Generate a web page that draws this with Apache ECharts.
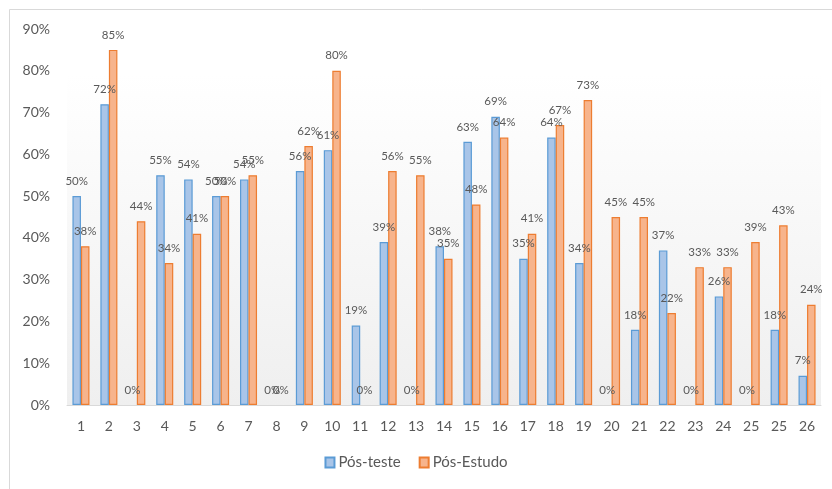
<!DOCTYPE html>
<html>
<head>
<meta charset="utf-8">
<script src="https://cdn.jsdelivr.net/npm/echarts@6/dist/echarts.min.js"></script>
<style>
  html, body { margin: 0; padding: 0; background: #fff; }
  #chart { width: 832px; height: 489px; }
</style>
</head>
<body>
<div id="chart"></div>
<script>
// question numbers as printed under the bars (25 appears twice)
var categories = ['1','2','3','4','5','6','7','8','9','10','11','12','13','14','15','16','17','18','19','20','21','22','23','24','25','25','26'];
var posTeste  = [50, 72, 0, 55, 54, 50, 54, 0, 56, 61, 19, 39, 0, 38, 63, 69, 35, 64, 34, 0, 18, 37, 0, 26, 0, 18, 7];
var posEstudo = [38, 85, 44, 34, 41, 50, 55, 0, 62, 80, 0, 56, 55, 35, 48, 64, 41, 67, 73, 45, 45, 22, 33, 33, 39, 43, 24];
var yTicks = { min: 0, max: 90, interval: 10 };

var FONT = 'Lato, "Open Sans", sans-serif';
var chart = echarts.init(document.getElementById('chart'));

function makeSeries(name, data, fill, stroke){
  // zero bars get no outline, so nothing shows on the axis
  var items = data.map(function(v){
    return v === 0 ? { value: v, itemStyle: { borderWidth: 0 } } : v;
  });
  return {
    name: name,
    type: 'bar',
    data: items,
    barGap: '0%',
    barCategoryGap: '39%',
    itemStyle: {
      color: fill,
      borderColor: stroke,
      borderWidth: 1.2
    },
    label: {
      show: true,
      position: 'top',
      distance: 9,
      color: '#595959',
      fontFamily: FONT,
      fontSize: 11.5,
      formatter: function(p){ return p.value + '%'; }
    }
  };
}

var option = {
  animation: false,
  backgroundColor: '#fff',
  textStyle: { fontFamily: FONT },
  graphic: [
    // outer frame of the embedded chart
    {
      type: 'rect',
      shape: { x: 9.5, y: 9.5, width: 900, height: 600 },
      style: { fill: 'none', stroke: '#d9d9d9', lineWidth: 1 },
      silent: true
    }
  ],
  grid: {
    left: 67,
    right: 11,
    top: 29,
    bottom: 84,
    show: true,
    borderWidth: 0,
    backgroundColor: new echarts.graphic.LinearGradient(0, 0, 0, 1, [
      { offset: 0, color: '#ffffff' },
      { offset: 0.12, color: '#ffffff' },
      { offset: 1, color: '#efefef' }
    ])
  },
  legend: {
    bottom: 14,
    left: 'center',
    itemWidth: 9,
    itemHeight: 10,
    itemGap: 18,
    icon: 'rect',
    textStyle: { color: '#595959', fontSize: 15, fontFamily: FONT, padding: [0, 0, 0, -1] },
    data: ['Pós-teste', 'Pós-Estudo']
  },
  xAxis: {
    type: 'category',
    data: categories,
    axisLine: { lineStyle: { color: '#d9d9d9', width: 1 } },
    axisTick: { show: false },
    axisLabel: { color: '#595959', fontSize: 14, margin: 14, fontFamily: FONT, interval: 0 }
  },
  yAxis: {
    type: 'value',
    min: yTicks.min,
    max: yTicks.max,
    interval: yTicks.interval,
    splitLine: { show: false },
    axisLine: { show: false },
    axisTick: { show: false },
    axisLabel: { color: '#595959', fontSize: 14, margin: 17, fontFamily: FONT, formatter: '{value}%' }
  },
  series: [
    makeSeries('Pós-teste', posTeste, '#a9c5e8', '#5b9bd5'),
    makeSeries('Pós-Estudo', posEstudo, '#f7b48c', '#ed7d31')
  ]
};

chart.setOption(option);
</script>
</body>
</html>
